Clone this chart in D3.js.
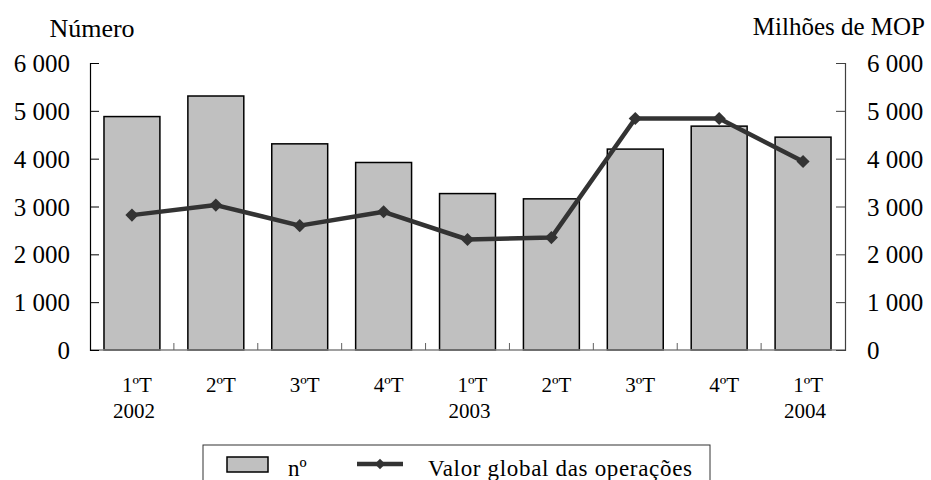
<!DOCTYPE html>
<html><head><meta charset="utf-8">
<script src="https://cdn.jsdelivr.net/npm/d3@7"></script>
<style>body{margin:0;background:#fff;} svg{display:block;} text{font-family:'Liberation Serif','Times New Roman',Times,serif;}</style>
</head><body><svg id="c" width="931" height="480"></svg>
<script>
const quarters = ["1ºT","2ºT","3ºT","4ºT","1ºT","2ºT","3ºT","4ºT","1ºT"];
const years = ["2002","","","","2003","","","","2004"];
const numero = [4880,5310,4310,3920,3270,3160,4200,4680,4450];
const valorGlobal = [2820,3030,2600,2890,2310,2350,4840,4840,3940];
const yTicks = [0,1000,2000,3000,4000,5000,6000];
const leftTitle = "Número";
const rightTitle = "Milhões de MOP";
const legendLabels = ["nº","Valor global das operações"];

const svg = d3.select("#c");
const L = 90, R = 845, T = 63, B = 350;
const idx = quarters.map((d,i)=>i);
const x = d3.scaleBand().domain(idx).range([L,R]).paddingInner(1/3).paddingOuter(1/6);
const yL = d3.scaleLinear().domain([0,6000]).range([B,T]);
const yR = d3.scaleLinear().domain([0,6000]).range([B,T]);
const fmt = v => d3.format(",")(v).replace(/,/g," ");
const FF = "'Liberation Serif','Times New Roman',Times,serif";

// bars
svg.append("g").selectAll("rect").data(numero).join("rect")
  .attr("x",(d,i)=>x(i)).attr("width",x.bandwidth())
  .attr("y",d=>yL(d)).attr("height",d=>B-yL(d))
  .attr("fill","#c0c0c0").attr("stroke","#000").attr("stroke-width",1.5);

// x axis line and ticks at band boundaries
svg.append("line").attr("x1",L).attr("x2",R).attr("y1",B).attr("y2",B).attr("stroke","#808080").attr("stroke-width",1.5);
const step = x.step();
svg.append("g").selectAll("line").data(d3.range(1,quarters.length)).join("line")
  .attr("x1",d=>L+d*step).attr("x2",d=>L+d*step).attr("y1",B).attr("y2",B-7)
  .attr("stroke","#606060").attr("stroke-width",1);

// left axis
const gl = svg.append("g").attr("transform",`translate(${L},0)`)
  .call(d3.axisRight(yL).tickValues(yTicks).tickSize(9).tickFormat(""));
gl.select(".domain").attr("stroke","#000").attr("stroke-width",1.2);
gl.selectAll(".tick line").attr("stroke","#000");
svg.append("g").selectAll("text").data(yTicks).join("text")
  .attr("x",70).attr("y",d=>yL(d)+9).attr("text-anchor","end")
  .attr("font-family",FF).attr("font-size",25).text(fmt);

// right axis
const gr = svg.append("g").attr("transform",`translate(${R},0)`)
  .call(d3.axisLeft(yR).tickValues(yTicks).tickSize(9).tickFormat(""));
gr.select(".domain").attr("stroke","#404040").attr("stroke-width",1.2);
gr.selectAll(".tick line").attr("stroke","#404040");
svg.append("g").selectAll("text").data(yTicks).join("text")
  .attr("x",867).attr("y",d=>yR(d)+9).attr("text-anchor","start")
  .attr("font-family",FF).attr("font-size",25).text(fmt);

// x labels
svg.append("g").selectAll("text").data(quarters).join("text")
  .attr("x",(d,i)=>x(i)+x.bandwidth()/2+5).attr("y",392).attr("text-anchor","middle")
  .attr("font-family",FF).attr("font-size",21).text(d=>d);
svg.append("g").selectAll("text").data(years).join("text")
  .attr("x",(d,i)=>x(i)+x.bandwidth()/2+2).attr("y",418).attr("text-anchor","middle")
  .attr("font-family",FF).attr("font-size",21).text(d=>d);

// line
const line = d3.line().x((d,i)=>x(i)+x.bandwidth()/2).y(d=>yR(d));
svg.append("path").datum(valorGlobal).attr("d",line).attr("fill","none")
  .attr("stroke","#333").attr("stroke-width",4.5).attr("stroke-linejoin","round");
const diamond = d3.symbol().type(d3.symbolDiamond2).size(110);
svg.append("g").selectAll("path").data(valorGlobal).join("path")
  .attr("transform",(d,i)=>`translate(${x(i)+x.bandwidth()/2},${yR(d)})`)
  .attr("d",diamond).attr("fill","#333");

// titles
svg.append("text").attr("x",92).attr("y",37).attr("text-anchor","middle").attr("font-family",FF).attr("font-size",26).text(leftTitle);
svg.append("text").attr("x",925).attr("y",35).attr("text-anchor","end").attr("font-family",FF).attr("font-size",25).text(rightTitle);

// legend
const lg = svg.append("g");
lg.append("rect").attr("x",203).attr("y",445).attr("width",507).attr("height",50)
  .attr("fill","#fff").attr("stroke","#333").attr("stroke-width",1);
lg.append("rect").attr("x",227).attr("y",457).attr("width",41).attr("height",15)
  .attr("fill","#c0c0c0").attr("stroke","#000").attr("stroke-width",1.5);
lg.append("text").attr("x",288).attr("y",476).attr("font-family",FF).attr("font-size",23).text(legendLabels[0]);
lg.append("line").attr("x1",357).attr("x2",403).attr("y1",464).attr("y2",464).attr("stroke","#333").attr("stroke-width",4.5);
lg.append("path").attr("transform","translate(380,464)").attr("d",d3.symbol().type(d3.symbolDiamond2).size(70)).attr("fill","#333");
lg.append("text").attr("x",428).attr("y",476).attr("font-family",FF).attr("font-size",23).attr("textLength",264).text(legendLabels[1]);
</script></body></html>
